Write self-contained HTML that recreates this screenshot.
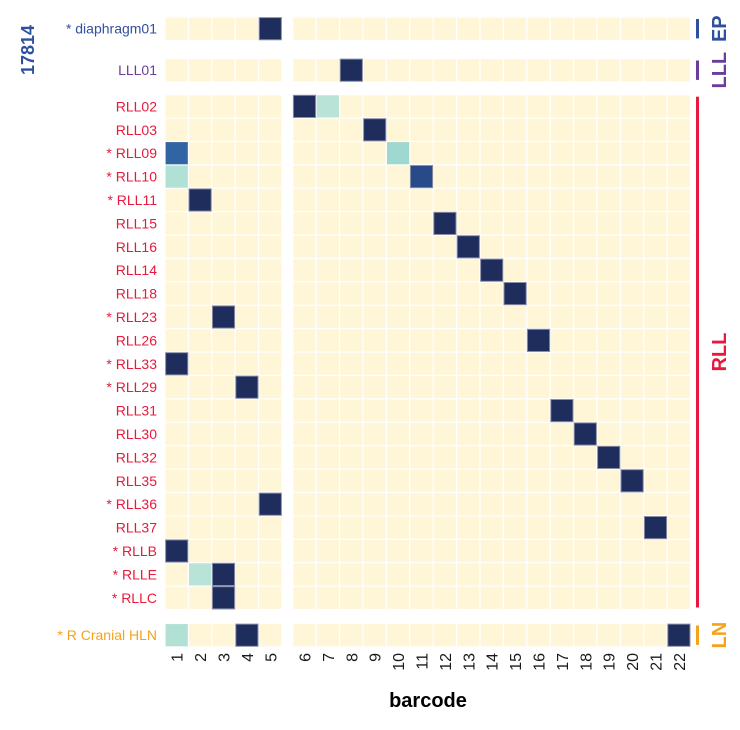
<!DOCTYPE html>
<html><head><meta charset="utf-8"><style>
body{margin:0;background:#fff;}
svg text{font-family:"Liberation Sans",Arial,sans-serif;}
</style></head><body>
<svg id="c" width="740" height="725" xmlns="http://www.w3.org/2000/svg"></svg>
<script>
const panels = ["EP","LLL","RLL","LN"];
const panelColors = ["#2f4f9f","#6a3d9a","#e8193c","#f7a21b"];
const rowLabels = [
 ["* diaphragm01"],["LLL01"],
 ["RLL02","RLL03","* RLL09","* RLL10","* RLL11","RLL15","RLL16","RLL14","RLL18","* RLL23","RLL26","* RLL33","* RLL29","RLL31","RLL30","RLL32","RLL35","* RLL36","RLL37","* RLLB","* RLLE","* RLLC"],
 ["* R Cranial HLN"]];
const barcodes = [1,2,3,4,5,6,7,8,9,10,11,12,13,14,15,16,17,18,19,20,21,22];
// cells: [panel, rowIndex, barcode, value]
const cellPanel = [0,1,2,2,2,2,2,2,2,2,2,2,2,2,2,2,2,2,2,2,2,2,2,2,2,2,2,2,2,3,3,3];
const cellRow   = [0,0,0,0,1,2,2,3,3,4,5,6,7,8,9,10,11,12,13,14,15,16,17,18,19,20,20,21,21,0,0,0];
const cellCode  = [5,8,6,7,9,1,10,1,11,2,12,13,14,15,3,16,1,4,17,18,19,20,5,21,1,2,3,3,3,1,4,22];
const cellValue = [1,1,1,0.3,1,0.8,0.4,0.33,0.9,1,1,1,1,1,1,1,1,1,1,1,1,1,1,1,1,0.3,1,1,1,0.33,1,1];
const ns="http://www.w3.org/2000/svg";
const svg=document.getElementById('c');
function el(t,a,p){const e=document.createElementNS(ns,t);for(const k in a)e.setAttribute(k,a[k]);(p||svg).appendChild(e);return e;}
const cw=23.4, rh=23.4;
const panelTop=[17,58.5,94.7,623.5];
function xOf(b){return b<=5?165+(b-1)*cw:292.8+(b-6)*cw;}
function yOf(p,r){return panelTop[p]+r*rh;}
const stops=[[0.3,[185,227,215]],[0.4,[159,216,207]],[0.8,[48,100,162]],[0.9,[40,74,136]],[1,[31,45,92]]];
function colorOf(v){
 if(v<=stops[0][0]){const c=stops[0][1];return `rgb(${c})`;}
 for(let i=1;i<stops.length;i++){
  if(v<=stops[i][0]){const [v0,c0]=stops[i-1],[v1,c1]=stops[i];const t=(v-v0)/(v1-v0);
   return `rgb(${c0.map((x,k)=>Math.round(x+(c1[k]-x)*t)).join(',')})`;}
 }
 return `rgb(${stops[stops.length-1][1]})`;
}
panels.forEach((p,pi)=>{
 rowLabels[pi].forEach((lab,ri)=>{
  barcodes.forEach(b=>{
   const r=el('rect',{x:xOf(b),y:yOf(pi,ri),width:cw,height:rh,fill:'#fff6d8',stroke:'#ffffff','stroke-width':1.2});
   
   
  });
  const t=el('text',{x:157,y:yOf(pi,ri)+rh/2+5,'text-anchor':'end','font-size':14,fill:panelColors[pi]});
  t.textContent=lab;
  
  
 });
 const n=rowLabels[pi].length;
 const top=yOf(pi,0)+2, bot=yOf(pi,n)-2;
 const s=el('rect',{x:696,y:top,width:3,height:bot-top,fill:panelColors[pi]});
 
 
 const cy=(top+bot)/2;
 const st=el('text',{x:0,y:0,transform:`translate(726,${cy}) rotate(-90)`,'text-anchor':'middle','font-size':20,'font-weight':'bold',fill:panelColors[pi]});
 st.textContent=p;
 
 
});
cellPanel.forEach((p,i)=>{
 const r=el('rect',{x:xOf(cellCode[i])+0.6,y:yOf(p,cellRow[i])+0.6,width:cw-1.2,height:rh-1.2,fill:colorOf(cellValue[i]),stroke:cellValue[i]>0.85?'#8a8fa8':'none','stroke-width':1});
 
 
});
barcodes.forEach(b=>{
 const cx=xOf(b)+cw/2;
 const t=el('text',{x:0,y:0,transform:`translate(${cx+6},${653}) rotate(-90)`,'text-anchor':'end','font-size':16,fill:'#1a1a1a'});
 t.textContent=b;
 
 
});
const xt=el('text',{x:428,y:707,'text-anchor':'middle','font-size':20,'font-weight':'bold',fill:'#000'});
xt.textContent='barcode';


const gt=el('text',{x:0,y:0,transform:'translate(34,50) rotate(-90)','text-anchor':'middle','font-size':18,'font-weight':'bold',fill:'#2f4f9f'});
gt.textContent='17814';


</script>
</body></html>
